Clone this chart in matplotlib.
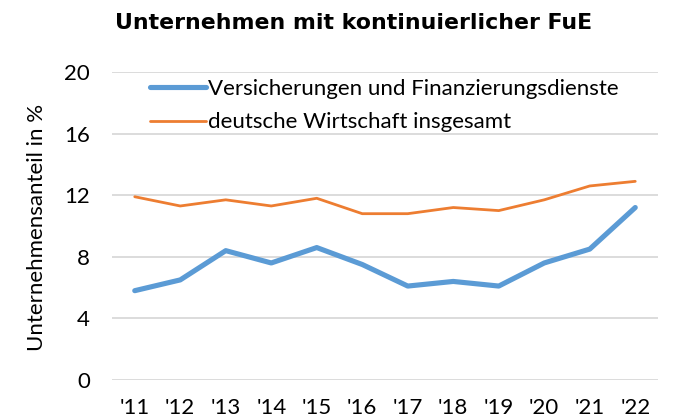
import matplotlib
matplotlib.use("Agg")
import matplotlib.pyplot as plt

years = ["'11", "'12", "'13", "'14", "'15", "'16", "'17", "'18", "'19", "'20", "'21", "'22"]
versicherungen = [5.8, 6.5, 8.4, 7.6, 8.6, 7.5, 6.1, 6.4, 6.1, 7.6, 8.5, 11.2]
wirtschaft = [11.9, 11.3, 11.7, 11.3, 11.8, 10.8, 10.8, 11.2, 11.0, 11.7, 12.6, 12.9]
yticks = [0, 4, 8, 12, 16, 20]

plt.rcParams['font.family'] = ['Lato', 'DejaVu Sans']

W, H = 675, 420
fig = plt.figure(figsize=(6.75, 4.2), dpi=100)
ax_l, ax_r, ax_t, ax_b = 112, 658, 72, 380
ax = fig.add_axes([ax_l / W, 1 - ax_b / H, (ax_r - ax_l) / W, (ax_b - ax_t) / H])

x = list(range(len(years)))
ax.plot(x, versicherungen, color='#5B9BD5', lw=3.7, solid_capstyle='round',
        label='Versicherungen und Finanzierungsdienste', zorder=3)
ax.plot(x, wirtschaft, color='#ED7D31', lw=2.0, solid_capstyle='round',
        label='deutsche Wirtschaft insgesamt', zorder=3)

ax.set_xlim(-0.5, len(years) - 0.5)
ax.set_ylim(0, 20)
ax.set_yticks(yticks)
ax.set_xticks(x)
ax.set_xticklabels(years)
ax.grid(axis='y', color='#d9d9d9', lw=1.3)
ax.set_axisbelow(True)
for s in ax.spines.values():
    s.set_visible(False)
ax.tick_params(length=0, labelsize=16, colors='#000000')
ax.tick_params(axis='y', pad=16)
ax.tick_params(axis='x', pad=13)

fig.text(37 / W, 1 - 227.5 / H, 'Unternehmensanteil in %', rotation=90,
         ha='center', va='center', fontsize=16)

fig.text(353.5 / W, 1 - 23 / H, 'Unternehmen mit kontinuierlicher FuE', ha='center', va='center',
         fontsize=15.8, fontweight='bold', family='DejaVu Sans')

leg = ax.legend(loc='upper left', bbox_to_anchor=((150 - ax_l) / (ax_r - ax_l), 1 - 7 / (ax_b - ax_t)),
                frameon=False, fontsize=16, handlelength=2.5, handletextpad=0.12,
                labelspacing=0.6, borderaxespad=0.0, borderpad=0.0)

fig.savefig('out.png', dpi=100)
